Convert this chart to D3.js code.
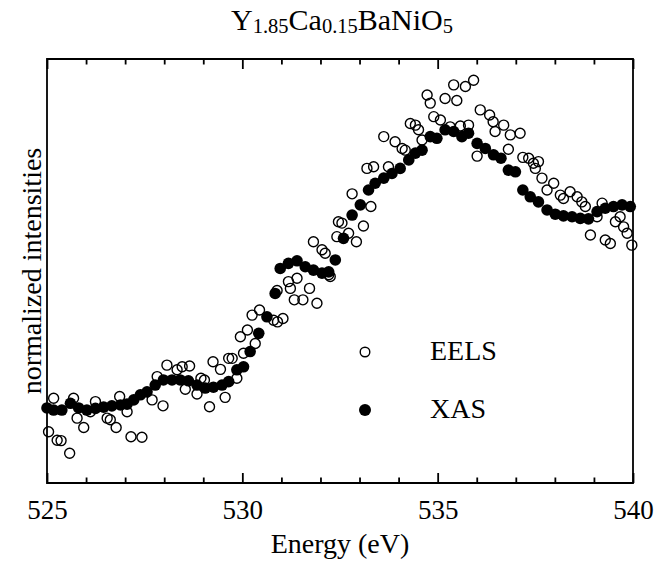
<!DOCTYPE html>
<html>
<head>
<meta charset="utf-8">
<script src="https://cdn.jsdelivr.net/npm/d3@7"></script>
<style>
  html, body { margin: 0; padding: 0; background: #fff; }
  svg { display: block; }
  text { font-family: "Liberation Serif", "Times New Roman", serif; fill: #000; }
</style>
</head>
<body>
<svg id="chart" width="665" height="564"></svg>
<script>
// ---- data ----
const xasEnergy = [525.00,525.17,525.38,525.60,525.81,526.02,526.24,526.45,526.66,526.88,527.05,527.22,527.39,527.56,527.77,527.98,528.20,528.41,528.62,528.84,529.05,529.26,529.48,529.65,529.86,530.03,530.20,530.42,530.63,530.84,530.97,531.18,531.40,531.61,531.82,532.04,532.21,532.38,532.59,532.81,533.02,533.23,533.40,533.62,533.83,534.04,534.26,534.43,534.60,534.81,534.98,535.19,535.41,535.62,535.79,536.01,536.22,536.43,536.62,536.81,536.99,537.18,537.37,537.58,537.80,538.01,538.22,538.44,538.65,538.86,539.08,539.29,539.50,539.72,539.93];
const xasIntensity = [17.7,17.2,17.2,18.8,17.7,17.2,17.6,17.9,18.2,18.4,18.6,19.6,20.8,21.5,23.1,24.3,24.3,24.3,24.1,23.1,22.4,22.6,23.1,23.9,26.7,27.4,31.0,35.3,39.2,44.7,50.6,51.8,52.4,51.0,50.2,49.5,49.8,52.6,57.7,63.2,65.6,69.1,70.7,71.9,73.0,74.2,76.2,77.8,78.5,81.7,81.3,83.3,82.9,81.7,82.5,80.1,78.9,77.4,76.6,73.8,73.4,69.1,67.5,66.3,64.4,63.4,63.0,62.8,62.4,62.3,64.0,64.8,65.2,65.6,65.2];

const eelsEnergy = [525.04,525.17,525.26,525.36,525.58,525.68,525.77,525.94,526.11,526.24,526.54,526.62,526.77,526.86,527.05,527.15,527.43,527.69,527.82,527.97,528.07,528.33,528.46,528.54,528.65,528.84,528.94,529.03,529.16,529.25,529.44,529.56,529.65,529.74,529.86,529.95,530.03,530.13,530.25,530.33,530.44,530.80,530.89,530.90,531.04,531.18,531.23,531.33,531.40,531.55,531.72,531.82,531.91,532.04,532.12,532.21,532.25,532.42,532.46,532.55,532.72,532.81,532.92,533.10,533.19,533.29,533.36,533.62,533.74,533.91,534.09,534.17,534.30,534.43,534.51,534.60,534.73,534.81,534.90,535.07,535.19,535.32,535.41,535.49,535.58,535.71,535.79,535.92,536.01,536.09,536.33,536.42,536.47,536.69,536.81,536.86,537.11,537.18,537.33,537.45,537.50,537.58,537.67,537.80,537.97,538.14,538.22,538.39,538.57,538.69,538.78,538.91,539.08,539.21,539.29,539.42,539.55,539.67,539.76,539.85,539.97];
const eelsIntensity = [12.1,20.0,10.1,10.0,7.0,20.0,15.3,13.1,16.8,19.2,15.3,14.9,13.1,20.4,16.8,10.9,10.8,19.6,25.1,18.2,27.8,26.7,27.4,22.1,27.6,21.0,24.7,24.3,18.0,28.6,26.8,20.2,29.4,29.4,24.7,34.5,30.6,36.1,39.6,32.9,40.8,38.4,45.4,38.0,38.8,47.5,45.9,43.2,48.3,43.2,45.9,56.9,42.4,55.0,54.2,49.1,48.7,58.1,61.6,61.3,58.9,68.2,56.9,60.6,74.2,65.2,74.6,81.7,74.6,80.5,78.9,78.5,84.8,84.4,83.3,80.9,91.5,89.6,86.4,85.6,90.7,84.0,93.9,90.2,84.2,93.5,84.4,95.0,77.1,88.0,86.8,85.2,82.9,84.4,78.7,82.1,82.5,76.8,76.6,75.4,74.2,75.8,71.9,69.1,70.7,67.9,67.1,68.7,67.5,66.3,65.2,58.5,62.8,66.0,57.3,56.5,61.6,62.8,60.4,58.9,56.1];

const majorTicks = [525, 530, 535, 540];
const minorTicks = [526,527,528,529,531,532,533,534,536,537,538,539];
const seriesNames = ["EELS", "XAS"];
const titleParts = [["Y",""],["1.85","sub"],["Ca",""],["0.15","sub"],["BaNiO",""],["5","sub"]];
const xLabel = "Energy (eV)";
const yLabel = "normalized intensities";

(function draw() {
  const svg = d3.select("#chart");
  const L = 47, R = 633, T = 59, B = 483;
  const x = d3.scaleLinear().domain([525, 540]).range([L, R]);
  const y = d3.scaleLinear().domain([0, 100]).range([B, T]);
  const rOpen = 5.0, rFill = 5.8;
  const lw = 1.8;

  function styleAxis(g) {
    g.select(".domain").remove();
    g.selectAll(".tick line").style("stroke", "#000").style("stroke-width", lw + "px");
  }

  // bottom axis (ticks inward)
  const axB = svg.append("g").attr("transform", `translate(0,${B})`)
    .call(d3.axisBottom(x).tickValues(majorTicks).tickSize(-10).tickPadding(17).tickFormat(d3.format("d")));
  styleAxis(axB);
  axB.selectAll("text").attr("font-size", 27).style("font-family", "'Liberation Serif', serif").style("fill", "#000");
  const axBm = svg.append("g").attr("transform", `translate(0,${B})`)
    .call(d3.axisBottom(x).tickValues(minorTicks).tickSize(-5.5).tickFormat(""));
  styleAxis(axBm);

  // top axis (ticks inward)
  const axT = svg.append("g").attr("transform", `translate(0,${T})`)
    .call(d3.axisTop(x).tickValues(majorTicks).tickSize(-10).tickFormat(""));
  styleAxis(axT);
  const axTm = svg.append("g").attr("transform", `translate(0,${T})`)
    .call(d3.axisTop(x).tickValues(minorTicks).tickSize(-5.5).tickFormat(""));
  styleAxis(axTm);

  // frame
  svg.append("path")
    .attr("d", `M${L},${T}H${R}V${B}H${L}Z`)
    .style("fill", "none").style("stroke", "#000").style("stroke-width", lw + "px");

  // data
  const plot = svg.append("g");
  plot.selectAll("circle.xas").data(xasEnergy.map((e, i) => [e, xasIntensity[i]]))
    .join("circle").attr("class", "xas")
    .attr("cx", d => x(d[0])).attr("cy", d => y(d[1])).attr("r", rFill)
    .style("fill", "#000");
  plot.selectAll("circle.eels").data(eelsEnergy.map((e, i) => [e, eelsIntensity[i]]))
    .join("circle").attr("class", "eels")
    .attr("cx", d => x(d[0])).attr("cy", d => y(d[1])).attr("r", rOpen)
    .style("fill", "none").style("stroke", "#000").style("stroke-width", "1.4px");

  // legend
  const leg = svg.append("g");
  leg.append("circle").attr("cx", 365).attr("cy", 352).attr("r", 4.8)
    .style("fill", "none").style("stroke", "#000").style("stroke-width", "1.4px");
  leg.append("text").attr("x", 430).attr("y", 360).attr("font-size", 28).text(seriesNames[0]);
  leg.append("circle").attr("cx", 365).attr("cy", 410).attr("r", 6).style("fill", "#000");
  leg.append("text").attr("x", 430).attr("y", 418).attr("font-size", 28).text(seriesNames[1]);

  // axis titles
  svg.append("text").attr("x", (L + R) / 2).attr("y", 553).attr("text-anchor", "middle")
    .attr("font-size", 28).text(xLabel);
  svg.append("text").attr("transform", `translate(41,${(T + B) / 2}) rotate(-90)`)
    .attr("text-anchor", "middle").attr("font-size", 28).text(yLabel);

  // title with subscripts
  const title = svg.append("text").attr("x", 342).attr("y", 30).attr("text-anchor", "middle").attr("font-size", 30);
  let prevSub = false;
  titleParts.forEach(([t, k]) => {
    const ts = title.append("tspan").text(t);
    if (k === "sub") { ts.attr("font-size", 20.5).attr("dy", 3); prevSub = true; }
    else { ts.attr("dy", prevSub ? -3 : 0); prevSub = false; }
  });
})();
</script>
</body>
</html>
